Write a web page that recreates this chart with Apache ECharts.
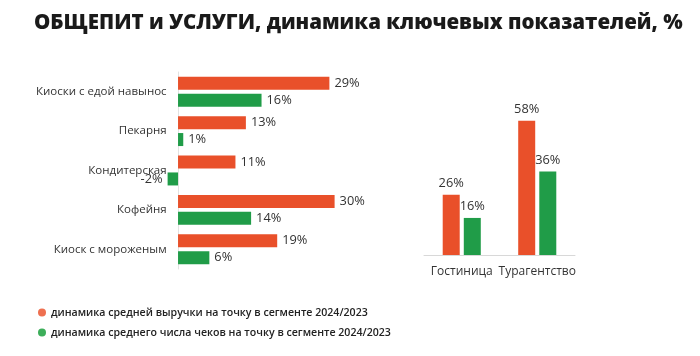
<!DOCTYPE html>
<html><head><meta charset="utf-8">
<script src="https://cdn.jsdelivr.net/npm/echarts@6/dist/echarts.min.js"></script>
<style>html,body{margin:0;padding:0;background:#fff}#c{width:700px;height:356px}</style>
</head><body><div id="c"></div>
<script>
const titleText = 'ОБЩЕПИТ и УСЛУГИ, динамика ключевых показателей, %';
const leftCategories = ['Киоски с едой навынос', 'Пекарня', 'Кондитерская', 'Кофейня', 'Киоск с мороженым'];
const leftRevenue = [29, 13, 11, 30, 19];
const leftChecks = [16, 1, -2, 14, 6];
const rightCategories = ['Гостиница', 'Турагентство'];
const rightRevenue = [26, 58];
const rightChecks = [16, 36];
const seriesNames = ['динамика средней выручки на точку в сегменте 2024/2023', 'динамика среднего числа чеков на точку в сегменте 2024/2023'];

const ORANGE = '#E9502A', GREEN = '#209C48';
const FONT = 'Open Sans';
const chart = echarts.init(document.getElementById('c'), null, {renderer: 'canvas'});
const valLabel = {show: true, formatter: p => p.value + '%', color: '#333', fontSize: 12.8, fontFamily: FONT, distance: 5};

chart.setOption({
  animation: false,
  textStyle: {fontFamily: FONT},
  title: {text: titleText, left: 29, top: 8, textStyle: {fontSize: 20.5, fontWeight: 800, color: '#1a1a1a', fontFamily: FONT}},
  legend: {
    orient: 'vertical', left: 33, top: 302, itemGap: 9, icon: 'circle', itemWidth: 8, itemHeight: 8,
    textStyle: {fontSize: 10.6, fontWeight: 600, color: '#222', fontFamily: FONT},
    data: [{name: seriesNames[0], itemStyle: {color: '#EE7050'}}, {name: seriesNames[1], itemStyle: {color: '#3DAE5A'}}]
  },
  grid: [
    {left: 167.6, width: 193.1, top: 72, height: 197},
    {left: 424, width: 151, top: 116, height: 139}
  ],
  xAxis: [
    {type: 'value', gridIndex: 0, min: -2, max: 35, show: false, splitLine: {show: false}},
    {type: 'category', gridIndex: 1, data: rightCategories, axisTick: {show: false},
     axisLine: {lineStyle: {color: '#d8d8d8'}}, axisLabel: {interval: 0, color: '#333', fontSize: 12, margin: 11, fontFamily: FONT}}
  ],
  yAxis: [
    {type: 'category', gridIndex: 0, data: leftCategories, inverse: true, axisTick: {show: false},
     axisLine: {onZero: true, lineStyle: {color: '#e2e2e2'}},
     axisLabel: {color: '#333', fontSize: 11.5, margin: 1, fontFamily: FONT}},
    {type: 'value', gridIndex: 1, min: 0, max: 60, show: false, splitLine: {show: false}}
  ],
  series: [
    {name: seriesNames[0], type: 'bar', xAxisIndex: 0, yAxisIndex: 0, data: leftRevenue, barWidth: 13, barGap: '30%',
     itemStyle: {color: ORANGE}, label: Object.assign({}, valLabel, {position: 'right'})},
    {name: seriesNames[1], type: 'bar', xAxisIndex: 0, yAxisIndex: 0, barWidth: 13, barGap: '30%',
     data: leftChecks.map(v => ({value: v, label: {position: v < 0 ? 'left' : 'right'}})),
     itemStyle: {color: GREEN}, label: Object.assign({}, valLabel)},
    {name: seriesNames[0], type: 'bar', xAxisIndex: 1, yAxisIndex: 1, data: rightRevenue, barWidth: 17, barGap: '24%',
     itemStyle: {color: ORANGE}, label: Object.assign({}, valLabel, {position: 'top'})},
    {name: seriesNames[1], type: 'bar', xAxisIndex: 1, yAxisIndex: 1, data: rightChecks, barWidth: 17, barGap: '24%',
     itemStyle: {color: GREEN}, label: Object.assign({}, valLabel, {position: 'top'})}
  ]
});
</script></body></html>
